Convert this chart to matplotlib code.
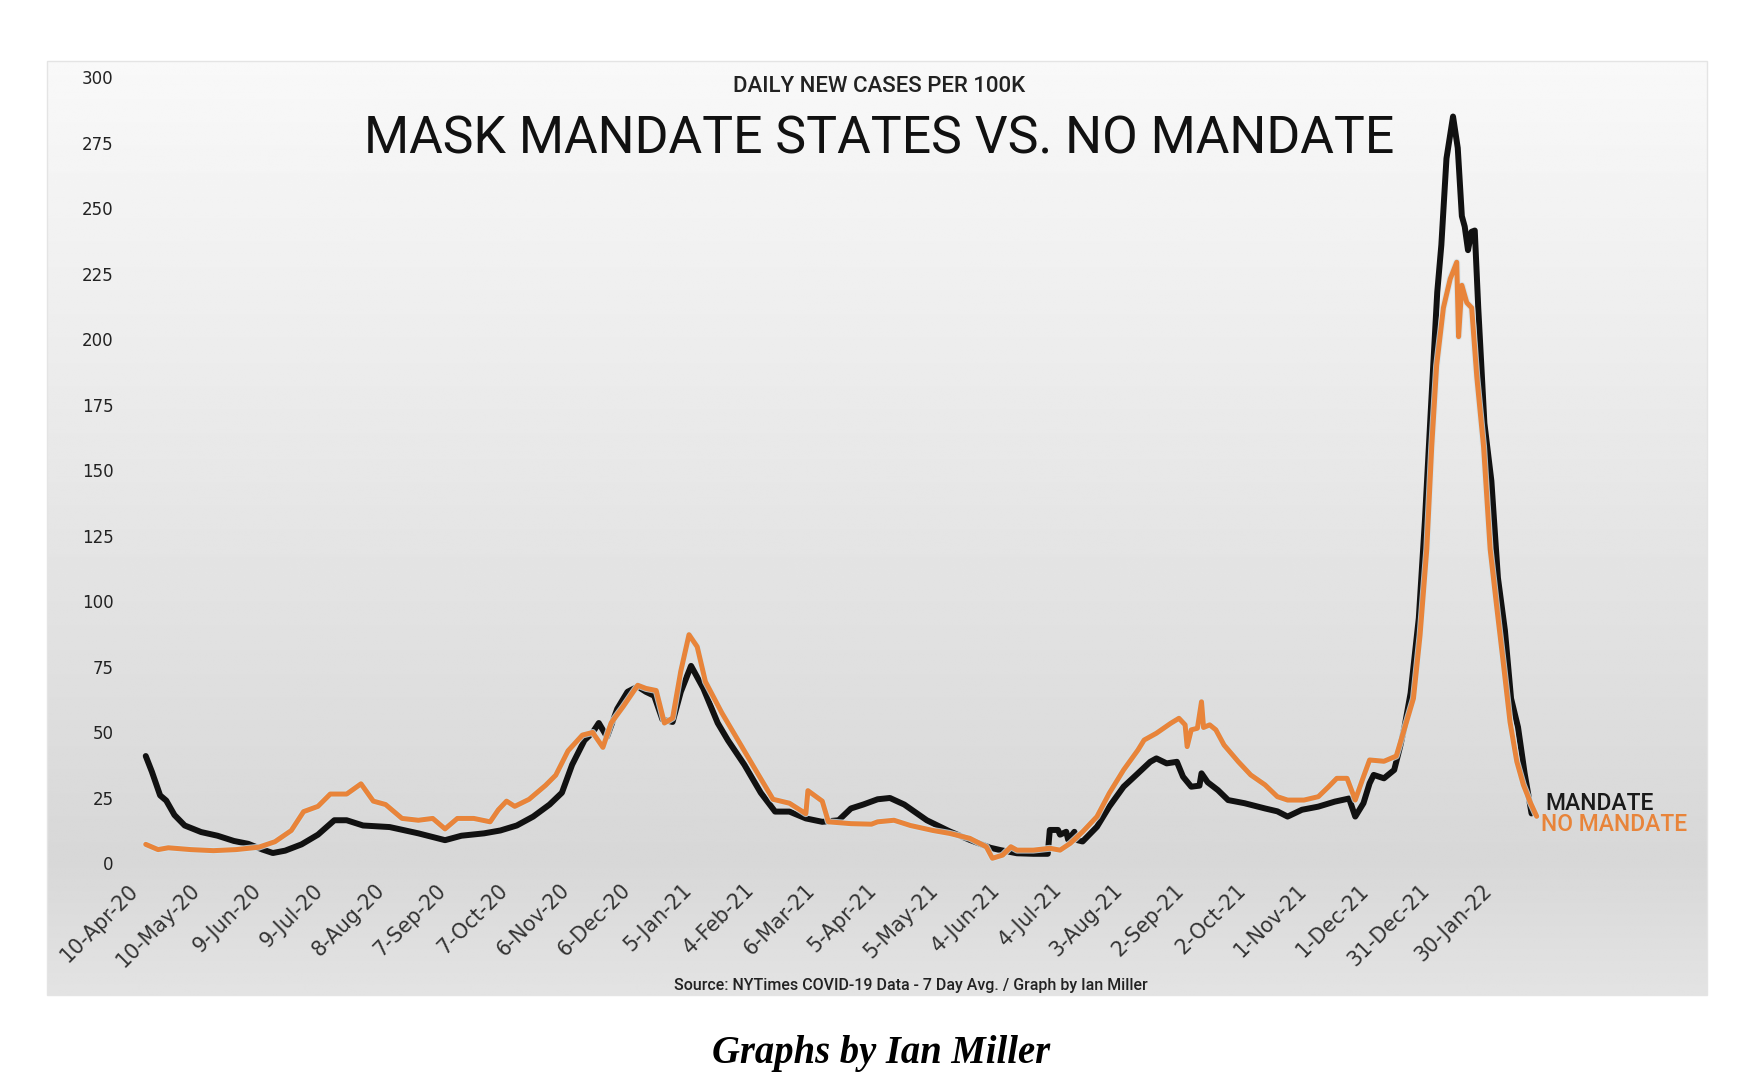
import numpy as np
import pandas as pd
import matplotlib
matplotlib.use("Agg")
import matplotlib.pyplot as plt
import matplotlib.dates as mdates
import matplotlib.patheffects as pe
from matplotlib.patches import Rectangle

# day offsets counted from 10-Apr-2020, values = daily new cases per 100k (7 day avg)
start = pd.Timestamp("2020-04-10")

mandate_day = [5, 8, 12, 15, 19, 24, 32, 40, 48, 55, 62, 67, 73, 81, 89, 97, 103, 111,
               124, 138, 151, 159, 170, 178, 186, 194, 202, 208, 213, 219, 223, 226, 230,
               235, 240, 245, 249, 253, 257, 262, 266, 271, 277, 284, 289, 297, 305, 312,
               319, 327, 335, 343, 349, 355, 362, 368, 375, 386, 397, 407, 417, 422, 430,
               438, 445, 446, 450, 451, 454, 455, 458, 459, 462, 469, 475, 482, 489, 495,
               498, 503, 508, 511, 515, 519, 520, 523, 528, 533, 541, 551, 557, 562, 569,
               577, 585, 592, 595, 599, 602, 604, 609, 614, 617, 619, 622, 626, 629, 632,
               635, 637, 639.5, 642.7, 645, 647, 648.4, 650, 651.7, 653.3, 655, 658, 661.4,
               664.6, 668, 671, 674.4, 677.6, 681]
mandate_val = [41, 35, 26, 24, 18.5, 14.5, 12, 10.6, 8.6, 7.5, 5.3, 4, 4.9, 7.3, 11, 16.5,
               16.5, 14.5, 13.9, 11.5, 8.9, 10.6, 11.5, 12.6, 14.5, 17.9, 22.5, 27, 37.7, 47,
               50, 53.6, 48.3, 59, 65.5, 67.5, 65.5, 64, 55, 54, 65.5, 75.4, 66.8, 53.6, 47,
               37.7, 27, 19.8, 19.8, 17.2, 15.9, 16.5, 21, 22.5, 24.5, 25, 22.5, 16.5, 12.3,
               9, 6, 5.1, 3.9, 3.7, 3.7, 12.8, 12.8, 11, 12.1, 9, 12.1, 9, 8.4, 14, 21.7,
               29.3, 34.4, 38.8, 40.1, 38.2, 38.8, 33.1, 29.3, 29.7, 34.4, 31, 28, 24.2, 23,
               21, 19.9, 17.9, 20.5, 21.7, 23.6, 24.8, 17.9, 23, 30.6, 33.8, 32.5, 35.7, 45,
               52, 65, 93.6, 131, 175, 218, 236, 269, 285, 273, 247, 243, 234, 241, 241.5,
               212, 168, 146, 109, 89, 63, 52, 34.5, 19.1]

nomandate_day = [5, 11, 16, 27, 38, 49, 60, 68, 76, 82, 89, 95, 103, 110, 116, 122, 130,
                 138, 145, 151, 157, 165, 173, 177, 181, 185, 192, 200, 205, 211, 218, 223,
                 228, 232, 238, 245, 249, 254, 258, 262, 266, 270, 274, 278, 286, 295, 303,
                 311, 319, 327, 328, 335, 338, 349, 359, 362, 370, 378, 389, 397, 407, 415,
                 418, 423, 427, 430, 438, 446, 451, 456, 462, 469, 475, 482, 489, 492, 498,
                 505, 509, 512, 513, 515, 518, 520, 521, 524, 527, 531, 538, 544, 551, 557,
                 562, 570, 577, 582, 586, 591, 595, 599, 602, 609, 615, 620, 623.4, 626.6,
                 629.9, 632.3, 634.7, 638, 641.3, 644.5, 645.4, 647, 649.4, 651.8, 654.3,
                 657.6, 660.8, 664, 667.3, 670.5, 673.8, 677, 680.3, 683.5]
nomandate_val = [7.3, 5.3, 6, 5.3, 4.9, 5.3, 6.2, 8.3, 12.6, 19.8, 21.8, 26.5, 26.5, 30.4,
                 23.8, 22.5, 17.2, 16.5, 17.2, 13.2, 17.2, 17.2, 15.9, 20.5, 23.8, 21.8, 24.5,
                 29.8, 33.7, 43, 49, 50, 44.3, 53.6, 60, 68, 66.8, 66, 53.6, 55.5, 73.4, 87.3,
                 82.7, 69.4, 57.5, 45.6, 35, 24.5, 23, 19, 27.8, 23.8, 15.9, 15.2, 15, 15.9,
                 16.5, 14.5, 12.6, 11.5, 9.6, 6.4, 2.0, 3.2, 6.4, 5.1, 5.1, 5.8, 5.1, 7.7,
                 12.1, 17.9, 26.8, 35.7, 43.3, 47.1, 49.7, 53.5, 55.4, 52.9, 44.6, 51, 51.6,
                 61.7, 51.9, 52.9, 51, 45.2, 38.8, 33.8, 30, 25.5, 24.2, 24.2, 25.5, 29.3,
                 32.5, 32.5, 24.2, 33.1, 39.5, 39, 41, 54, 63, 87, 120, 159, 190, 212, 223,
                 229.4, 201, 220.6, 214, 212, 185.6, 159, 120, 98, 76, 54, 38.9, 30, 23.5, 18]

x_labels = ["10-Apr-20", "10-May-20", "9-Jun-20", "9-Jul-20", "8-Aug-20", "7-Sep-20",
            "7-Oct-20", "6-Nov-20", "6-Dec-20", "5-Jan-21", "4-Feb-21", "6-Mar-21",
            "5-Apr-21", "5-May-21", "4-Jun-21", "4-Jul-21", "3-Aug-21", "2-Sep-21",
            "2-Oct-21", "1-Nov-21", "1-Dec-21", "31-Dec-21", "30-Jan-22"]
y_ticks = list(range(0, 301, 25))

black = "#111111"
orange = "#E8843A"
W, H = 1748, 1082

def to_dates(days):
    return (start + pd.to_timedelta(np.array(days, dtype=float), unit="D")).to_numpy()

fig = plt.figure(figsize=(W / 100, H / 100), dpi=100)
fig.patch.set_facecolor("white")

# grey gradient panel behind the chart
px0, py0, px1, py1 = 47, 61, 1707, 995
bg = fig.add_axes([px0 / W, 1 - py1 / H, (px1 - px0) / W, (py1 - py0) / H])
rows = np.linspace(0, 1, 400)
shade = np.interp(rows, [0, 0.855, 1], [0.975, 0.845, 0.89])
bg.imshow(np.tile(shade[:, None], (1, 10)), aspect="auto", cmap="gray",
          vmin=0, vmax=1, interpolation="bilinear")
bg.set_axis_off()
fig.patches.append(Rectangle((px0 / W, 1 - py1 / H), (px1 - px0) / W, (py1 - py0) / H,
                             transform=fig.transFigure, fill=False,
                             edgecolor="#e4e4e4", linewidth=1))

# main axes
ax_l, ax_r, ax_b, ax_t = 115, 1700, 863.5, 77.2
ax = fig.add_axes([ax_l / W, 1 - ax_b / H, (ax_r - ax_l) / W, (ax_b - ax_t) / H])
ax.patch.set_alpha(0)
for s in ax.spines.values():
    s.set_visible(False)

d_m = to_dates(mandate_day)
d_n = to_dates(nomandate_day)
ax.plot(d_m, mandate_val, color=black, lw=4.3, solid_joinstyle="round",
        solid_capstyle="round", zorder=3)
ax.plot(d_n, nomandate_val, color=orange, lw=3.6, solid_joinstyle="round",
        solid_capstyle="round", zorder=4,
        path_effects=[pe.Stroke(linewidth=5.0, foreground="#d3e3ec", alpha=0.8), pe.Normal()])

day_lo = (ax_l - 135.5) / 2.05
day_hi = (ax_r - 135.5) / 2.05
ax.set_xlim(mdates.date2num(start + pd.Timedelta(days=day_lo)),
            mdates.date2num(start + pd.Timedelta(days=day_hi)))
ax.set_ylim(0, 300)

tick_dates = pd.to_datetime(x_labels, format="%d-%b-%y").to_numpy()
ax.set_xticks(tick_dates)
ax.set_xticklabels(x_labels, rotation=45, ha="right", va="center",
                   rotation_mode="anchor", fontsize=14.8, color="#333333")
ax.set_yticks(y_ticks)
ax.set_yticklabels([str(v) for v in y_ticks], fontsize=12, color="#222222")
ax.tick_params(axis="x", length=0, pad=17)
ax.tick_params(axis="y", length=0, pad=1)

# end-of-line labels
ax.annotate("MANDATE", (d_m[-1], mandate_val[-1]), xytext=(10, 7),
            textcoords="offset points", va="center", ha="left",
            fontsize=16.5, family="Roboto", weight="medium", color="#1a1a1a")
ax.annotate("NO MANDATE", (d_n[-1], nomandate_val[-1]), xytext=(3, -6),
            textcoords="offset points", va="center", ha="left",
            fontsize=16.5, family="Roboto", weight="medium", color=orange)

# titles and credits
fig.text(879 / W, 1 - 87 / H, "DAILY NEW CASES PER 100K", ha="center", va="center",
         fontsize=16, family="Roboto", weight="medium", color="#222222")
fig.text(879.5 / W, 1 - 139 / H, "MASK MANDATE STATES VS. NO MANDATE", ha="center",
         va="center", fontsize=37.3, family="Roboto", color="#111111")
fig.text(911 / W, 1 - 985.6 / H,
         "Source: NYTimes COVID-19 Data - 7 Day Avg. / Graph by Ian Miller",
         ha="center", va="center", fontsize=11.5, family="Roboto", weight="medium",
         color="#222222")
fig.text(881 / W, 1 - 1053 / H, "Graphs by Ian Miller", ha="center", va="center",
         fontsize=27.8, family="Liberation Serif", style="italic", weight="bold",
         color="#000000")

fig.savefig("out.png", dpi=100)
